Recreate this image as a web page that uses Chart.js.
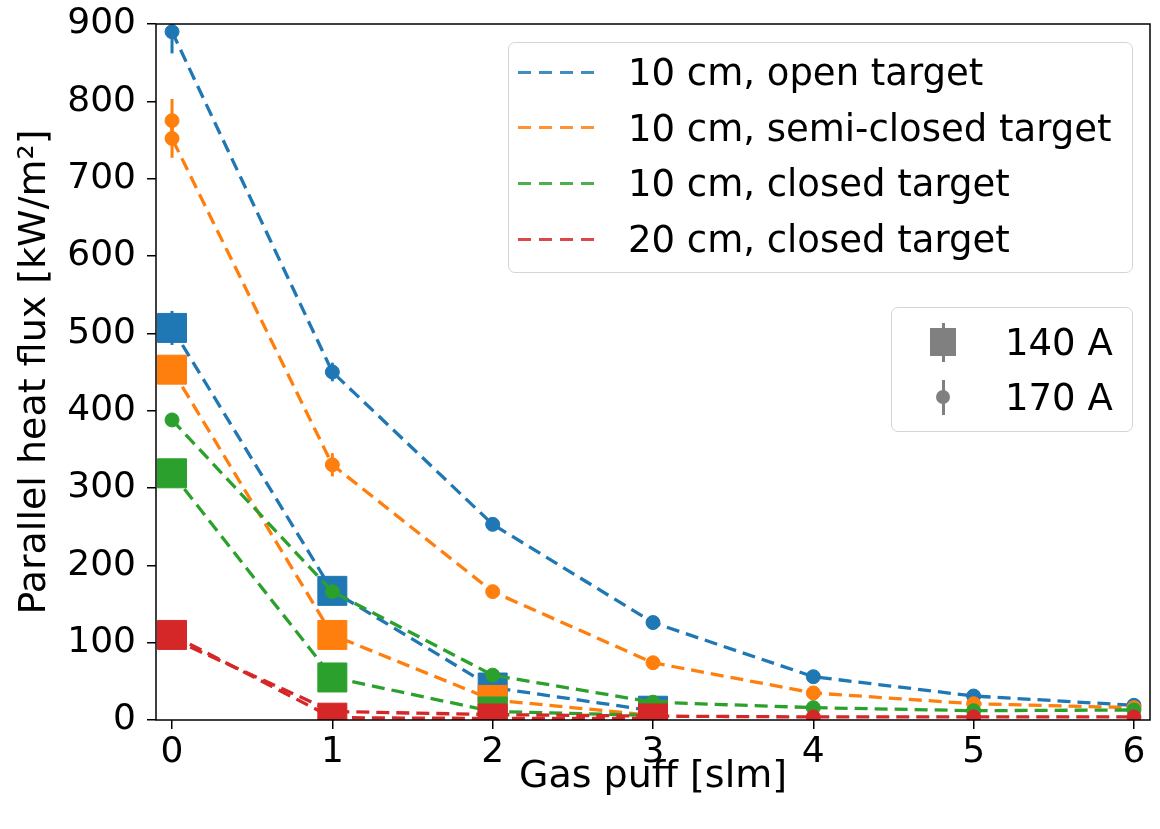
<!DOCTYPE html>
<html>
<head>
<meta charset="utf-8">
<script src="https://cdn.jsdelivr.net/npm/chart.js@4.4.1/dist/chart.umd.min.js"></script>
<style>
  body { margin: 0; background: #fff; }
  #wrap { position: relative; width: 1160px; height: 829px; font-family: "DejaVu Sans", sans-serif; }
  #chart { position: absolute; left: 0; top: 0; }
  .box { position: absolute; box-sizing: border-box; background: rgba(255,255,255,0.8); border: 1.5px solid #d4d4d4; border-radius: 7px; }
  .txt { position: absolute; font-size: 37px; line-height: 1; color: #000; white-space: nowrap; transform: translateY(-50%); }
  .dash { position: absolute; height: 3px; width: 80px; margin-top: -1.5px; }
  .mk { position: absolute; background: #808080; }
</style>
</head>
<body>
<div id="wrap">
  <canvas id="chart" width="1160" height="829"></canvas>
</div>
<script>
// gas puff positions (slm)
const gasPuff = [0, 1, 2, 3, 4, 5, 6];
const gasPuffSemi170 = [0, 0, 1, 2, 3, 4, 5, 6];
const gasPuff140 = [0, 1, 2, 3];

const seriesNames = ['10 cm, open target', '10 cm, semi-closed target', '10 cm, closed target', '20 cm, closed target'];
const seriesColors = ['#1f77b4', '#ff7f0e', '#2ca02c', '#d62728'];
const currentNames = ['140 A', '170 A'];

// 170 A (circles)
const open170 = [890, 450, 253, 126, 56, 31, 19];
const open170Err = [28, 12, 5, 0, 0, 0, 0];
const semi170 = [775, 752, 330, 166, 74, 35, 21, 16];
const semi170Err = [28, 25, 15, 5, 0, 0, 0, 0];
const closed170 = [388, 166, 58, 23, 16, 12, 13];
const closed170Err = [8, 5, 0, 0, 0, 0, 0];
const closed20cm170 = [105, 11, 7, 5, 4, 4, 4];

// 140 A (squares)
const open140 = [507, 167, 42, 12];
const open140Err = [22, 6, 0, 0];
const semi140 = [453, 110, 26, 6];
const closed140 = [319, 55, 11, 6];
const closed20cm140 = [110, 3, 2, 2];

const xTicks = [0, 1, 2, 3, 4, 5, 6];
const yTicks = [0, 100, 200, 300, 400, 500, 600, 700, 800, 900];

function pts(xs, ys) {
    return ys.map((v, i) => ({ x: xs[i], y: v }));
}

function makeSet(label, xs, ys, errs, color, square, order) {
    return {
        label: label,
        data: pts(xs, ys),
        errors: errs || null,
        showLine: true,
        borderColor: color,
        backgroundColor: color,
        borderWidth: 3.3,
        borderDash: [13, 7],
        pointStyle: square ? 'rect' : 'circle',
        pointRadius: square ? 20.5 : 7,
        pointBackgroundColor: color,
        pointBorderColor: color,
        pointBorderWidth: 1,
        order: order
    };
}

// drawing order: lower order is drawn on top
const datasets = [
    makeSet('140 A ' + seriesNames[0], gasPuff140, open140, open140Err, seriesColors[0], true, 8),
    makeSet('170 A ' + seriesNames[0], gasPuff, open170, open170Err, seriesColors[0], false, 7),
    makeSet('140 A ' + seriesNames[1], gasPuff140, semi140, null, seriesColors[1], true, 6),
    makeSet('170 A ' + seriesNames[1], gasPuffSemi170, semi170, semi170Err, seriesColors[1], false, 5),
    makeSet('140 A ' + seriesNames[2], gasPuff140, closed140, null, seriesColors[2], true, 4),
    makeSet('170 A ' + seriesNames[2], gasPuff, closed170, closed170Err, seriesColors[2], false, 3),
    makeSet('140 A ' + seriesNames[3], gasPuff140, closed20cm140, null, seriesColors[3], true, 2),
    makeSet('170 A ' + seriesNames[3], gasPuff, closed20cm170, null, seriesColors[3], false, 1)
];

// vertical error bars, drawn right after each dataset
const errorBars = {
    id: 'errorBars',
    afterDatasetDraw(chart, args) {
        const ds = chart.data.datasets[args.index];
        if (!ds.errors) return;
        const ctx = chart.ctx;
        const a = chart.chartArea;
        const yScale = chart.scales.y;
        ctx.save();
        ctx.beginPath();
        ctx.rect(a.left, a.top, a.right - a.left, a.bottom - a.top);
        ctx.clip();
        ctx.strokeStyle = ds.borderColor;
        ctx.lineWidth = 3;
        ds.data.forEach((p, i) => {
            const e = ds.errors[i];
            if (!e) return;
            const px = args.meta.data[i].x;
            ctx.beginPath();
            ctx.moveTo(px, yScale.getPixelForValue(p.y - e));
            ctx.lineTo(px, yScale.getPixelForValue(p.y + e));
            ctx.stroke();
        });
        ctx.restore();
    }
};

// full box around the axes
const frame = {
    id: 'frame',
    afterDatasetsDraw(chart) {
        const { ctx, chartArea: a } = chart;
        ctx.save();
        ctx.strokeStyle = '#000';
        ctx.lineWidth = 1.5;
        ctx.strokeRect(a.left, a.top, a.right - a.left, a.bottom - a.top);
        ctx.restore();
    }
};

new Chart(document.getElementById('chart'), {
    type: 'scatter',
    data: { datasets: datasets },
    plugins: [errorBars, frame],
    options: {
        responsive: false,
        animation: false,
        devicePixelRatio: 1,
        layout: { autoPadding: false, padding: { top: 24, right: 10, left: 0, bottom: 0 } },
        plugins: { legend: { display: false }, tooltip: { enabled: false } },
        scales: {
            x: {
                type: 'linear',
                min: -0.1,
                max: 6.1,
                afterBuildTicks: s => { s.ticks = xTicks.map(v => ({ value: v })); },
                afterFit: s => { s.height = 109; s.paddingLeft = 0; s.paddingRight = 0; },
                border: { display: false },
                grid: { drawOnChartArea: false, drawTicks: true, tickLength: 9, color: '#000', lineWidth: 1.5 },
                ticks: { color: '#000', padding: 2, font: { family: 'DejaVu Sans', size: 36 }, maxRotation: 0 },
                title: {
                    display: true,
                    text: 'Gas puff [slm]',
                    color: '#000',
                    font: { family: 'DejaVu Sans', size: 38 },
                    padding: { top: 0, bottom: 29 }
                }
            },
            y: {
                type: 'linear',
                min: 0,
                max: 900,
                afterBuildTicks: s => { s.ticks = yTicks.map(v => ({ value: v })); },
                afterFit: s => { s.width = 156; s.paddingTop = 0; s.paddingBottom = 0; },
                border: { display: false },
                grid: { drawOnChartArea: false, drawTicks: true, tickLength: 9, color: '#000', lineWidth: 1.5 },
                ticks: { color: '#000', padding: 11, font: { family: 'DejaVu Sans', size: 36 } },
                title: {
                    display: true,
                    text: 'Parallel heat flux [kW/m²]',
                    color: '#000',
                    font: { family: 'DejaVu Sans', size: 38 },
                    padding: { top: 12, bottom: 0 }
                }
            }
        }
    }
});

// legends (html overlay)
const wrap = document.getElementById('wrap');
function el(cls, style, text) {
    const d = document.createElement('div');
    d.className = cls;
    Object.assign(d.style, style);
    if (text) d.textContent = text;
    wrap.appendChild(d);
    return d;
}

el('box', { left: '508px', top: '42px', width: '625px', height: '231px' });
seriesNames.forEach((name, i) => {
    const y = 72 + i * 55.7;
    el('dash', {
        left: '518px', top: y + 'px',
        background: 'repeating-linear-gradient(to right, ' + seriesColors[i] + ' 0 13px, transparent 13px 21px)',
        opacity: 0.85
    });
    el('txt', { left: '628px', top: y + 'px' }, name);
});

el('box', { left: '891px', top: '307px', width: '242px', height: '125px' });
// 140 A: square marker with error bar
el('mk', { left: '941.5px', top: '323px', width: '3px', height: '39px' });
el('mk', { left: '930px', top: '328px', width: '26px', height: '28px' });
el('txt', { left: '1005px', top: '342px' }, currentNames[0]);
// 170 A: circle marker with error bar
el('mk', { left: '941.5px', top: '380px', width: '3px', height: '35px' });
el('mk', { left: '936px', top: '390px', width: '14px', height: '14px', borderRadius: '50%' });
el('txt', { left: '1005px', top: '397px' }, currentNames[1]);
</script>
</body>
</html>
